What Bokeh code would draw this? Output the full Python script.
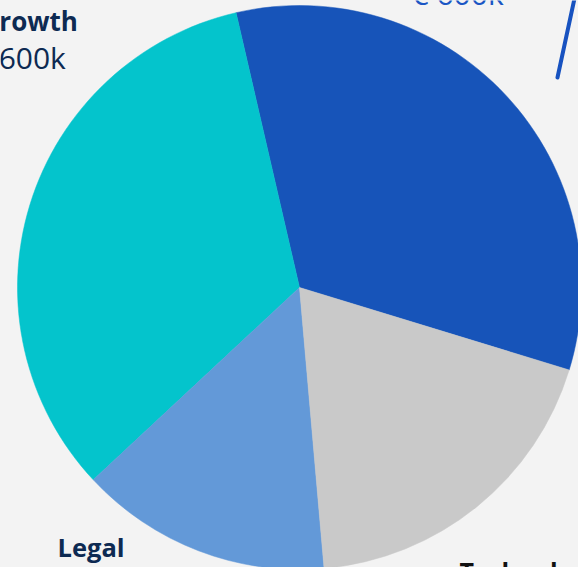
import numpy as np
from bokeh.plotting import figure
from bokeh.models import ColumnDataSource, Range1d
from bokeh.core.properties import value
from bokeh.embed import file_html
from bokeh.resources import INLINE

# ---- data ----
categories = ["Operations", "Growth", "Legal", "Technology"]
amounts = [600, 600, 260, 340]          # k EUR
value_labels = ["€ 600k", "€600k", "€260k", "€340k"]
colors = ["#1754B9", "#04C4CC", "#6399D8", "#C9C9C9"]

# ---- layout ----
W, H = 578, 567
CX, CY, R = 299, 567 - 287, 282
START_DEG = -17.0
YFIX = 9  # renderer places baselines a little lower

vals = np.array(amounts, dtype=float)
frac = vals / vals.sum()
ends = np.deg2rad(START_DEG) + np.cumsum(frac) * 2 * np.pi
starts = np.concatenate([[np.deg2rad(START_DEG)], ends[:-1]])

src = ColumnDataSource(dict(cat=categories, start=starts, end=ends, color=colors))

p = figure(width=W, height=H, output_backend="svg", toolbar_location=None,
           x_range=Range1d(0, W), y_range=Range1d(0, H), min_border=0,
           background_fill_color="#F3F3F3", border_fill_color="#F3F3F3")
p.axis.visible = False
p.grid.visible = False
p.outline_line_color = None

p.wedge(x=CX, y=CY, radius=R, start_angle="start", end_angle="end",
        fill_color="color", line_color="color", line_width=0.5, source=src)

# leader line (pixel coords, y down)
lx = [557, 574]
ly = [77, -2]
p.line(x=lx, y=[H - v for v in ly], line_color="#1752C0", line_width=4, line_cap="round")

NAVY = "#0D2A52"
def txt(x, y, s, size, color, style="normal"):
    p.text(x=[x], y=[H - (y - YFIX)], text=[s], text_font=value("Open Sans"),
           text_font_size=f"{size}px", text_color=color, text_font_style=style,
           text_baseline="alphabetic", text_align="left")

# Growth label
txt(-20, 29, categories[1], 26, NAVY, "bold")
txt(-19, 66, value_labels[1], 30, NAVY)
# Operations value (cut at top)
txt(411, 2, value_labels[0], 30, "#1A56C4")
# Legal
txt(57, 555, categories[2], 25.5, NAVY, "bold")
# Technology
txt(459, 579, categories[3], 25, "#111111", "bold")

html = file_html(p, INLINE)
html = html.replace("<head>", "<head><style>html,body{margin:0;padding:0;background:#F3F3F3;overflow:hidden;}</style>", 1)
open("out.html", "w").write(html)
